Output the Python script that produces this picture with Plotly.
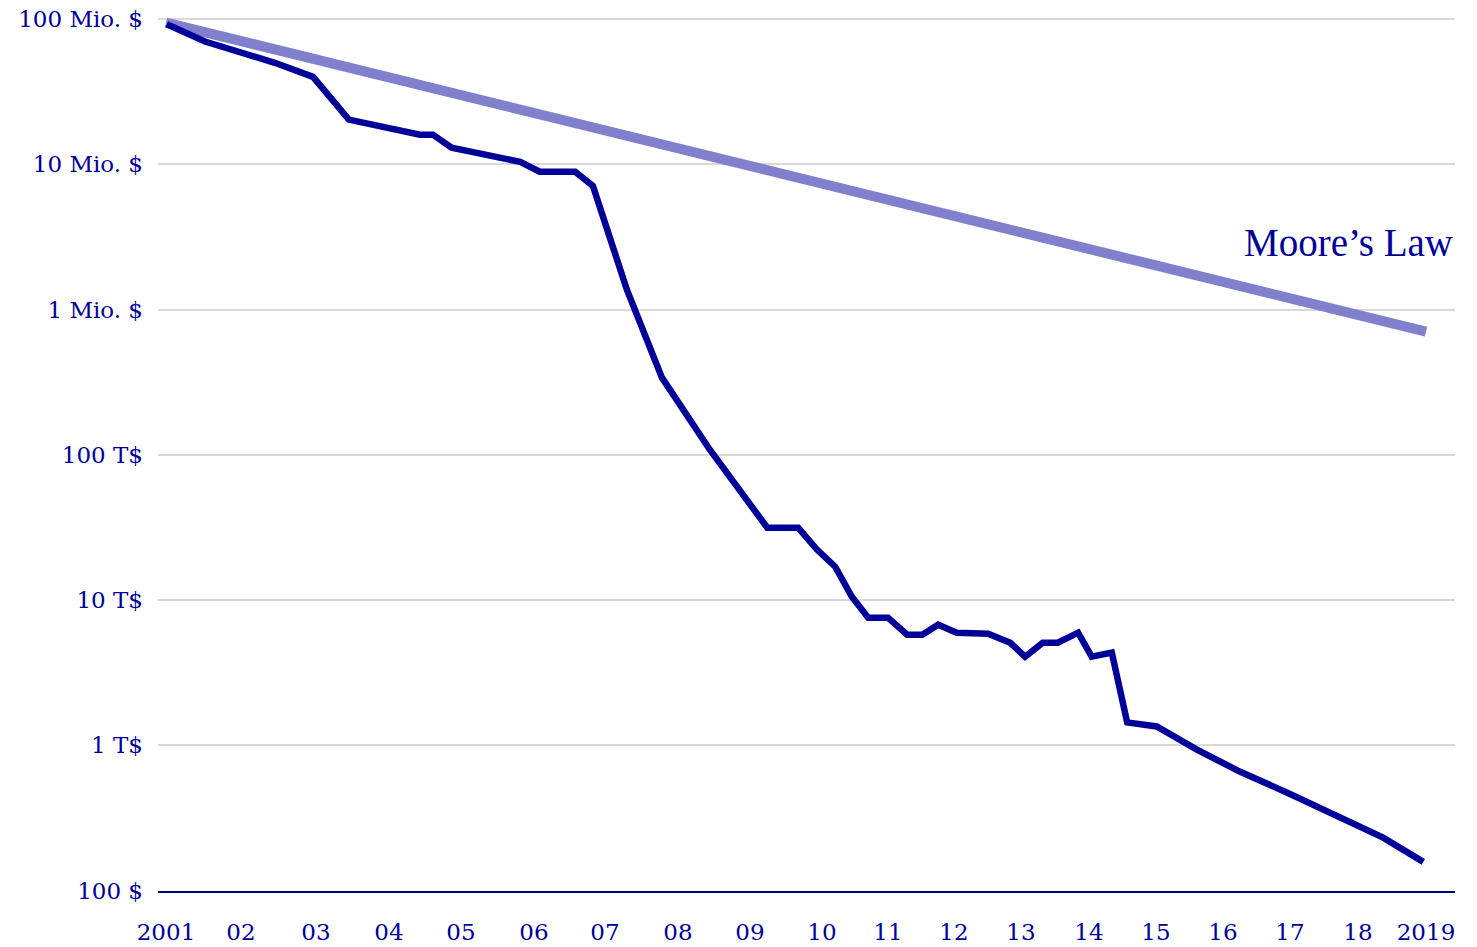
import numpy as np
import plotly.graph_objects as go

# ---- data ----
tick_years = list(range(2001, 2020))
tick_labels = ["2001", "02", "03", "04", "05", "06", "07", "08", "09", "10",
               "11", "12", "13", "14", "15", "16", "17", "18", "2019"]

cost_years = [2001.01, 2001.52, 2002.45, 2002.96, 2003.45, 2004.43, 2004.61, 2004.87,
              2005.81, 2006.08, 2006.58, 2006.83, 2007.30, 2007.52, 2007.78, 2008.44,
              2009.24, 2009.67, 2009.93, 2010.20, 2010.45, 2010.70, 2011.00, 2011.29,
              2011.52, 2011.76, 2012.04, 2012.51, 2012.84, 2013.06, 2013.32, 2013.54,
              2013.84, 2014.04, 2014.34, 2014.57, 2014.84, 2015.01, 2015.61, 2016.25,
              2016.96, 2017.74, 2018.37, 2018.96]
cost_usd = [92e6, 70e6, 50e6, 40e6, 20.3e6, 16e6, 16e6, 13e6,
            10.4e6, 8.9e6, 8.9e6, 7.1e6, 1.37e6, 728e3, 340e3, 109e3,
            31.5e3, 31.5e3, 22.3e3, 17e3, 10.6e3, 7.58e3, 7.58e3, 5.79e3,
            5.79e3, 6.78e3, 5.97e3, 5.88e3, 5.09e3, 4.08e3, 5.09e3, 5.09e3,
            5.97e3, 4.08e3, 4.35e3, 1.44e3, 1.40e3, 1.35e3, 935, 661,
            473, 324, 232, 158]

moore_years = [2001, 2019]
moore_usd = [94.4e6, 705e3]

y_tick_vals = [1e2, 1e3, 1e4, 1e5, 1e6, 1e7, 1e8]
y_tick_labels = ["100 $", "1 T$", "10 T$", "100 T$", "1 Mio. $", "10 Mio. $", "100 Mio. $"]

# ---- layout: position of each year label along the x axis (uneven in reference) ----
tick_pos = [8, 83, 158, 231, 303, 376, 447, 520, 592, 664,
            730, 796, 863, 931, 998, 1065, 1132, 1200, 1268]

def xpos(years):
    return np.interp(years, tick_years, tick_pos)

NAVY = "rgb(0,0,153)"
LIGHT = "rgb(128,128,204)"
GRID = "rgb(217,217,217)"

fig = go.Figure()
fig.add_trace(go.Scatter(x=xpos(moore_years), y=moore_usd, mode="lines",
                         line=dict(color=LIGHT, width=10), hoverinfo="skip",
                         showlegend=False))
fig.add_trace(go.Scatter(x=xpos(cost_years), y=cost_usd, mode="lines",
                         line=dict(color=NAVY, width=6.5), showlegend=False))

fig.add_annotation(text="Moore’s Law", xref="paper", x=1.0, xanchor="right",
                   yref="y", y=6.46, yanchor="middle", showarrow=False,
                   font=dict(family="Liberation Serif", size=39, color=NAVY))

# top gridline (near the upper edge of the plot area)
fig.add_shape(type="line", xref="paper", x0=0, x1=1, yref="y",
              y0=np.log10(max(y_tick_vals)), y1=np.log10(max(y_tick_vals)),
              line=dict(color=GRID, width=2), layer="below")

fig.update_layout(
    width=1477, height=947,
    margin=dict(l=158, r=22, t=17, b=56, autoexpand=False),
    plot_bgcolor="white", paper_bgcolor="white",
    font=dict(family="DejaVu Serif", size=23, color=NAVY),
)
fig.update_xaxes(range=[0, 1297], tickvals=tick_pos, ticktext=tick_labels,
                 showgrid=False, zeroline=False, showline=True,
                 linecolor="rgb(0,0,128)", linewidth=1.5, ticks="",
                 ticklabelstandoff=20, automargin=False,
                 ticklabeloverflow="allow")
fig.update_yaxes(type="log", range=[1.998, 8.014], tickvals=y_tick_vals,
                 ticktext=y_tick_labels,
                 showgrid=True, gridcolor=GRID, gridwidth=2,
                 zeroline=False, showline=False, ticks="", ticklabelstandoff=14,
                 automargin=False, ticklabeloverflow="allow")

fig.write_html("out.html", config={"displayModeBar": False},
               post_script="document.body.style.margin='0';document.body.style.overflow='hidden';")
